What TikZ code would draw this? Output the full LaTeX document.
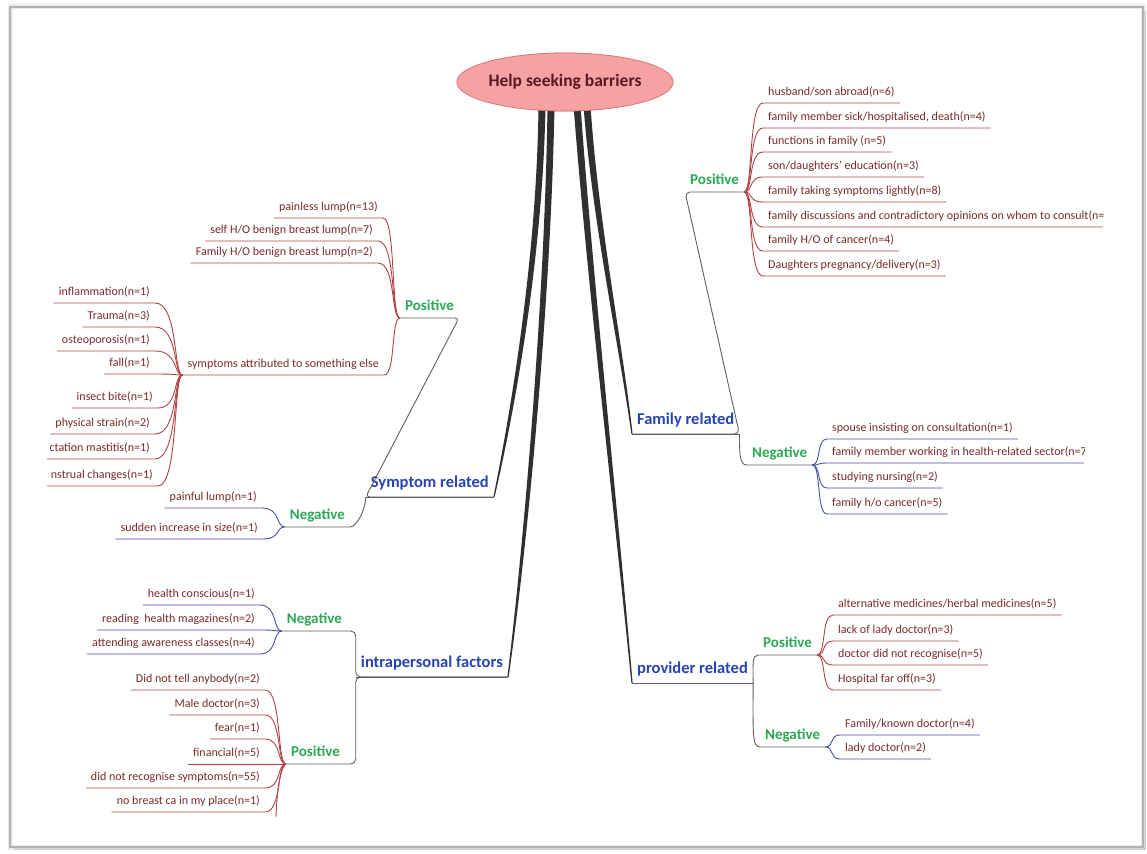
\documentclass[tikz,border=0pt]{standalone}
\usepackage{fontspec}
\setmainfont{Carlito}
\usetikzlibrary{calc,shapes.geometric}

\definecolor{leaftext}{RGB}{122,42,42}
\definecolor{redline}{RGB}{178,66,66}
\definecolor{blueline}{RGB}{70,82,165}
\definecolor{polgreen}{RGB}{44,168,84}
\definecolor{topicblue}{RGB}{38,68,178}
\definecolor{topicline}{RGB}{95,95,95}
\definecolor{trunkcol}{RGB}{48,48,48}
\definecolor{rootfill}{RGB}{245,162,162}
\definecolor{rootdraw}{RGB}{214,120,120}
\definecolor{roottext}{RGB}{88,24,34}

\tikzset{
  leafbox/.style={font=\fontsize{12}{14}\selectfont, text=leaftext,
    inner xsep=5pt, inner ysep=3.5pt, text height=8pt, text depth=3.5pt},
  rleaf/.style={leafbox, anchor=south west},
  lleaf/.style={leafbox, anchor=south east},
  polbox/.style={font=\fontsize{15}{17}\selectfont\bfseries, text=polgreen,
    inner xsep=5pt, inner ysep=3.5pt, text height=10pt, text depth=4pt},
  topicbox/.style={font=\fontsize{16.5}{19}\selectfont\bfseries, text=topicblue,
    inner xsep=5pt, inner ysep=4.5pt, text height=11pt, text depth=5pt},
  rootbox/.style={ellipse, fill=rootfill, draw=rootdraw, line width=0.8pt,
    minimum width=190pt, minimum height=58pt, inner sep=0pt,
    font=\fontsize{17.5}{20}\selectfont\bfseries, text=roottext},
  redln/.style={draw=redline, line width=0.9pt},
  blueln/.style={draw=blueline, line width=0.9pt},
  grayln/.style={draw=topicline, line width=0.9pt},
}

% leaf to the right of its junction: name, line style, junction, x, y, text
\newcommand\RLeaf[6]{%
  \node[rleaf] (#1) at (#4,#5) {#6};
  \draw[#2] (#3) .. controls ($(#3)+(9,0)$) and ($(#3 |- #1.south west)+(4,0)$)
    .. (#1.south west) -- (#1.south east);
}
% leaf to the left of its junction
\newcommand\LLeaf[6]{%
  \node[lleaf] (#1) at (#4,#5) {#6};
  \draw[#2] (#3) .. controls ($(#3)+(-9,0)$) and ($(#3 |- #1.south east)+(-4,0)$)
    .. (#1.south east) -- (#1.south west);
}
% tapered trunk from the root: start, control 1, control 2, end
\newcommand\Trunk[4]{%
  \fill[trunkcol] ($(#1)+(-3.5,0)$) .. controls ($(#2)+(-3,0)$) and ($(#3)+(-2,0)$)
    .. ($(#4)+(-0.6,0)$) -- ($(#4)+(0.6,0)$) .. controls ($(#3)+(2,0)$) and ($(#2)+(3,0)$)
    .. ($(#1)+(3.5,0)$) -- cycle;
}

\begin{document}
\begin{tikzpicture}[x=1pt,y=-1pt]
\useasboundingbox (0,0) rectangle (1147,853);
\fill[white] (0,0) rectangle (1147,853);

% page frame with soft shadow
\draw[black!8, line width=5pt] (10,7) rectangle (1143,847);
\draw[black!18, line width=2.5pt] (1145,11) -- (1145,849) -- (14,849);
\draw[black!30, line width=1.1pt] (10,7) rectangle (1143,847);

% root (placed first so the trunks can start from it)
\node[rootbox] (hsb) at (565,82) {};

% main topics
\node[topicbox, anchor=south east] (sym) at (494,497) {Symptom related};
\node[topicbox, anchor=south east] (intra) at (508,677) {intrapersonal factors};
\node[topicbox, anchor=south west] (fam) at (632,434) {Family related};
\node[topicbox, anchor=south west] (prov) at (632,683) {provider related};
\foreach \t in {sym,intra,fam,prov}
  \draw[grayln] (\t.south west) -- (\t.south east);

% trunks
\coordinate (s1) at ($(hsb.south)+(-23,-6)$);
\coordinate (s2) at ($(hsb.south)+(-14,-6)$);
\coordinate (s3) at ($(hsb.south)+(12,-6)$);
\coordinate (s4) at ($(hsb.south)+(22,-6)$);
\Trunk{s1}{540,250}{515,400}{sym.south east}
\Trunk{s2}{548,300}{525,550}{intra.south east}
\Trunk{s3}{590,280}{615,500}{prov.south west}
\Trunk{s4}{595,220}{620,340}{fam.south west}
\node[rootbox] at (hsb) {Help seeking barriers};

% polarity branches
\node[polbox, anchor=south east] (symPos) at (459,318) {Positive};
\node[polbox, anchor=south east] (symNeg) at (350,527) {Negative};
\node[polbox, anchor=south east] (intraNeg) at (347,631) {Negative};
\node[polbox, anchor=south east] (intraPos) at (345,764) {Positive};
\node[polbox, anchor=south west] (famPos) at (685,192) {Positive};
\node[polbox, anchor=south west] (famNeg) at (747,465) {Negative};
\node[polbox, anchor=south west] (provPos) at (758,655) {Positive};
\node[polbox, anchor=south west] (provNeg) at (760,747) {Negative};

\draw[grayln, rounded corners=4pt] (symPos.south west) -- (symPos.south east) -- (sym.south west) -- (sym.south east);
\draw[grayln] (symNeg.south west) -- (symNeg.south east) .. controls +(7,0) and +(0,12) .. (sym.south west);
\draw[grayln, rounded corners=5pt] (intraNeg.south west) -- (intraNeg.south east) -| (intra.south west) -- (intra.south east);
\draw[grayln, rounded corners=5pt] (intraPos.south west) -- (intraPos.south east) -| (intra.south west) -- (intra.south east);
\draw[grayln, rounded corners=5pt] (famPos.south east) -- (famPos.south west) -- (fam.south east) -- (fam.south west);
\draw[grayln] (fam.south east) .. controls +(0,22) and +(-7,0) .. (famNeg.south west) -- (famNeg.south east);
\draw[grayln] (prov.south east) .. controls +(0,-18) and +(-6,0) .. (provPos.south west) -- (provPos.south east);
\draw[grayln] (prov.south east) .. controls +(0,50) and +(-8,0) .. (provNeg.south west) -- (provNeg.south east);

\coordinate (jsp) at (symPos.south west);
\coordinate (jsn) at (symNeg.south west);
\coordinate (jin) at (intraNeg.south west);
\coordinate (jip) at (intraPos.south west);
\coordinate (jfp) at (famPos.south east);
\coordinate (jfn) at (famNeg.south east);
\coordinate (jpp) at (provPos.south east);
\coordinate (jpn) at (provNeg.south east);

% symptom related: positive
\LLeaf{sp1}{redln}{jsp}{383}{218}{painless lump(n=13)}
\LLeaf{sp2}{redln}{jsp}{378}{241}{self H/O benign breast lump(n=7)}
\LLeaf{sp3}{redln}{jsp}{378}{263}{Family H/O benign breast lump(n=2)}
\LLeaf{sae}{redln}{jsp}{384}{375}{symptoms attributed to something else}
\coordinate (jsae) at (sae.south west);
\LLeaf{sa1}{redln}{jsae}{155}{303}{inflammation(n=1)}
\LLeaf{sa2}{redln}{jsae}{155}{327}{Trauma(n=3)}
\LLeaf{sa3}{redln}{jsae}{155}{351}{osteoporosis(n=1)}
\LLeaf{sa4}{redln}{jsae}{155}{374}{fall(n=1)}
\LLeaf{sa5}{redln}{jsae}{158}{408}{insect bite(n=1)}
\LLeaf{sa6}{redln}{jsae}{155}{434}{physical strain(n=2)}
\begin{scope}
  \clip (47,0) rectangle (1147,853);
  \LLeaf{sa7}{redln}{jsae}{155}{459}{ctation mastitis(n=1)}
  \LLeaf{sa8}{redln}{jsae}{158}{486}{nstrual changes(n=1)}
\end{scope}

% symptom related: negative
\LLeaf{sn1}{blueln}{jsn}{262}{508}{painful lump(n=1)}
\LLeaf{sn2}{blueln}{jsn}{263}{539}{sudden increase in size(n=1)}

% intrapersonal factors
\LLeaf{in1}{blueln}{jin}{260}{605}{health conscious(n=1)}
\LLeaf{in2}{blueln}{jin}{260}{630}{reading~ health magazines(n=2)}
\LLeaf{in3}{blueln}{jin}{260}{654}{attending awareness classes(n=4)}
\LLeaf{ip1}{redln}{jip}{265}{690}{Did not tell anybody(n=2)}
\LLeaf{ip2}{redln}{jip}{265}{715}{Male doctor(n=3)}
\LLeaf{ip3}{redln}{jip}{265}{739}{fear(n=1)}
\LLeaf{ip4}{redln}{jip}{265}{764}{financial(n=5)}
\LLeaf{ip5}{redln}{jip}{265}{788}{did not recognise symptoms(n=55)}
\LLeaf{ip6}{redln}{jip}{265}{812}{no breast ca in my place(n=1)}
\coordinate (ipcut) at (276,817);
\draw[redln] (jip) .. controls ($(jip)+(-5,4)$) and ($(ipcut)+(1,-30)$) .. (ipcut);

% family related: positive
\RLeaf{fp1}{redln}{jfp}{763}{103}{husband/son abroad(n=6)}
\RLeaf{fp2}{redln}{jfp}{763}{128}{family member sick/hospitalised, death(n=4)}
\RLeaf{fp3}{redln}{jfp}{763}{152}{functions in family (n=5)}
\RLeaf{fp4}{redln}{jfp}{763}{177}{son/daughters’ education(n=3)}
\RLeaf{fp5}{redln}{jfp}{763}{202}{family taking symptoms lightly(n=8)}
\begin{scope}
  \clip (0,0) rectangle (1103,853);
  \RLeaf{fp6}{redln}{jfp}{763}{227}{family discussions and contradictory opinions on whom to consult(n=}
\end{scope}
\RLeaf{fp7}{redln}{jfp}{763}{251}{family H/O of cancer(n=4)}
\RLeaf{fp8}{redln}{jfp}{763}{276}{Daughters pregnancy/delivery(n=3)}

% family related: negative
\RLeaf{fn1}{blueln}{jfn}{827}{439}{spouse insisting on consultation(n=1)}
\begin{scope}
  \clip (0,0) rectangle (1084,853);
  \RLeaf{fn2}{blueln}{jfn}{827}{463}{family member working in health-related sector(n=7}
\end{scope}
\RLeaf{fn3}{blueln}{jfn}{827}{488}{studying nursing(n=2)}
\RLeaf{fn4}{blueln}{jfn}{827}{514}{family h/o cancer(n=5)}

% provider related
\RLeaf{pp1}{redln}{jpp}{833}{615}{alternative medicines/herbal medicines(n=5)}
\RLeaf{pp2}{redln}{jpp}{833}{641}{lack of lady doctor(n=3)}
\RLeaf{pp3}{redln}{jpp}{833}{665}{doctor did not recognise(n=5)}
\RLeaf{pp4}{redln}{jpp}{833}{690}{Hospital far off(n=3)}
\RLeaf{pn1}{blueln}{jpn}{840}{735}{Family/known doctor(n=4)}
\RLeaf{pn2}{blueln}{jpn}{840}{759}{lady doctor(n=2)}
\end{tikzpicture}
\end{document}
